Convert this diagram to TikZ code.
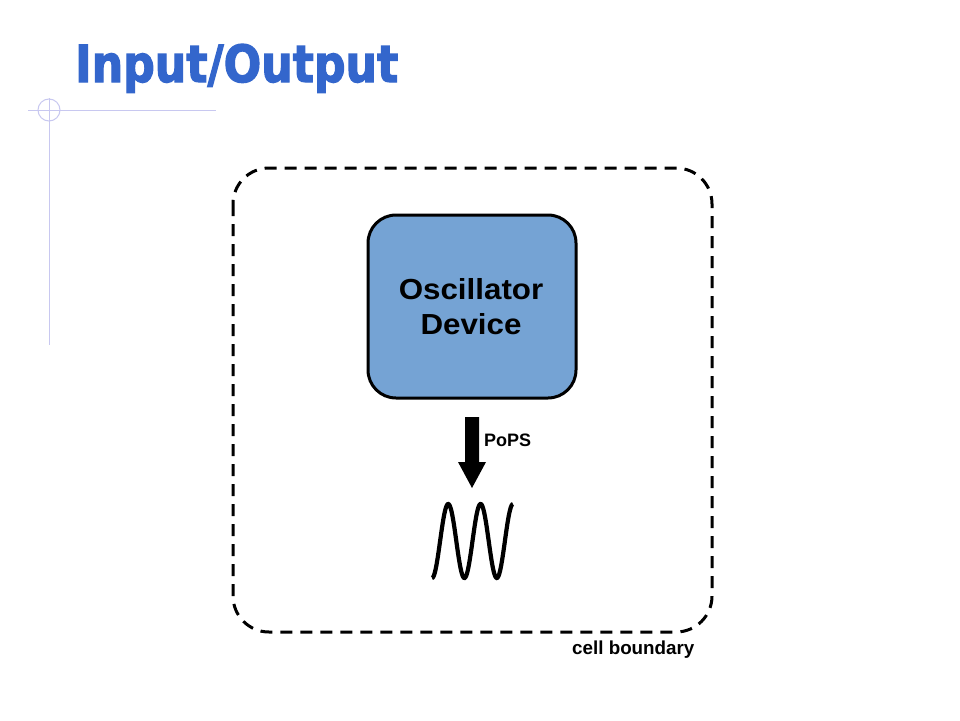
\documentclass[tikz,border=0pt]{standalone}
\usepackage{fontspec}
\setmainfont{Liberation Sans}
\newfontfamily\titlefont[FakeBold=2.5]{DejaVu Sans Bold}
\definecolor{titleblue}{HTML}{3366CC}
\definecolor{boxblue}{HTML}{75A3D4}
\definecolor{decor}{HTML}{C8C8F0}
\begin{document}
\begin{tikzpicture}[x=1pt,y=-1pt,
  decorline/.style={draw=decor,line width=1pt},
  cellbox/.style={draw=black,line width=3pt,dash pattern=on 12pt off 8pt,rounded corners=36pt},
  devbox/.style={draw=black,line width=3pt,fill=boxblue,rounded corners=28pt},
  lbl/.style={font=\bfseries,inner sep=0pt}]
\useasboundingbox[fill=white] (0,0) rectangle (960,720);
% decoration
\draw[decorline] (28,110) -- (216,110);
\draw[decorline] (49,98) -- (49,345);
\draw[decorline] (49,110) circle (11);
% title
\node[anchor=base west,inner sep=0pt,text=titleblue] (title) at (75,82)
  {\resizebox{323pt}{38pt}{\titlefont Input/Output}};
% cell boundary
\draw[cellbox] (233,168) rectangle (712,632);
\node[lbl,anchor=base west,font=\fontsize{18.8}{20}\selectfont\bfseries] (cell) at (572,654) {cell boundary};
% device
\draw[devbox] (368,215) rectangle (576,398);
\node[lbl,anchor=base,font=\fontsize{29}{35}\selectfont\bfseries,xscale=1.08] (osc) at (471,299) {Oscillator};
\node[lbl,anchor=base,font=\fontsize{29}{35}\selectfont\bfseries,xscale=1.08] (dev) at (471,334) {Device};
% block arrow
\fill[black] (465,417) -- (479,417) -- (479,462) -- (486,462) -- (472,488) -- (458,462) -- (465,462) -- cycle;
\node[lbl,anchor=base west,font=\fontsize{18}{20}\selectfont\bfseries] (pops) at (484,446) {PoPS};
% wave
\draw[line width=4.2pt] plot[domain=0:5,samples=120,smooth] ({432+16.2*\x},{541+37*cos(180*\x)});
\end{tikzpicture}
\end{document}
